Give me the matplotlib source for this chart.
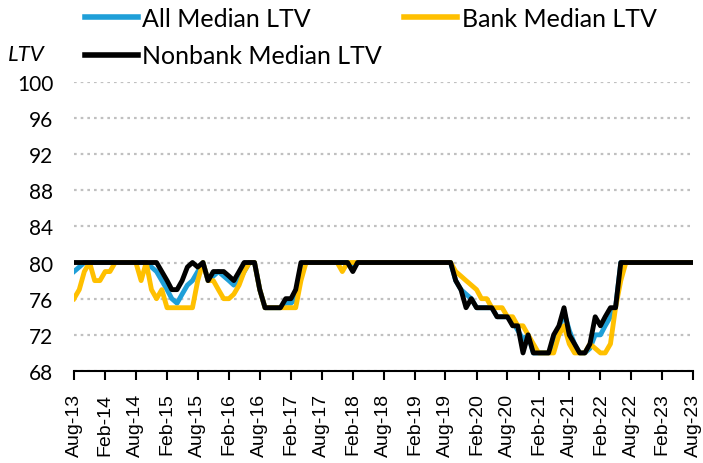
import matplotlib
matplotlib.use('Agg')
import matplotlib.pyplot as plt
import matplotlib.dates as mdates
import numpy as np
import pandas as pd

months = pd.date_range('2013-08-01', '2023-08-01', freq='MS')

all_ltv = ([79, 79.5] + [80]*13 +
           [79.5, 79, 78, 77, 76, 75.5, 76.5, 77.5, 78, 79, 80, 78, 78.5, 79, 78.5, 78, 77.5, 78, 79, 80, 80,
            77, 75, 75, 75, 75, 75.5, 75.5, 76, 79] +
           [80]*9 + [79.5] + [80]*19 +
           [78, 77, 76.5, 76, 75, 75, 75, 75, 74, 74, 74, 73.5, 72.5, 71.5, 72, 70, 70, 70, 70, 71, 72.5, 74.5,
            72.5, 71, 70, 70, 70.5, 72, 72, 73, 74, 75] +
           [80]*15)

bank_ltv = ([76, 77, 79, 80, 78, 78, 79, 79] + [80]*5 +
            [78, 80, 77, 76, 77] + [75]*6 +
            [78, 80, 78, 78, 77, 76, 76, 76.5, 77.5, 79, 80, 80, 77] + [75]*7 + [78] +
            [80]*7 + [79] + [80]*21 +
            [79, 78.5, 78, 77.5, 77, 76, 76, 75, 75, 75, 74, 74, 73, 73, 72, 71, 70, 70, 70, 70, 72, 73,
             71, 70, 70, 70, 71, 70.5, 70, 70, 71, 75, 78] +
            [80]*14)

nonbank_ltv = ([80]*17 +
               [79, 78, 77, 77, 78, 79.5, 80, 79.5, 80, 78, 79, 79, 79, 78.5, 78, 79, 80, 80, 80,
                77, 75, 75, 75, 75, 76, 76, 77, 80] +
               [80]*9 + [79] + [80]*19 +
               [78, 77, 75, 76, 75, 75, 75, 75, 74, 74, 74, 73, 73, 70, 72, 70, 70, 70, 70, 72, 73, 75,
                72, 71, 70, 70, 71, 74, 73, 74, 75, 75] +
               [80]*15)

yticks = np.arange(68, 101, 4)

fig = plt.figure(figsize=(7.03, 4.64), dpi=100)
ax = fig.add_axes([74/703, 1-372/464, (693-74)/703, (372-82.7)/464])

l_all, = ax.plot(months, all_ltv, color='#1f9fd8', lw=3.5, label='All Median LTV', solid_joinstyle='round')
l_bank, = ax.plot(months, bank_ltv, color='#ffc000', lw=3.5, label='Bank Median LTV', solid_joinstyle='round')
l_non, = ax.plot(months, nonbank_ltv, color='black', lw=3.5, label='Nonbank Median LTV', solid_joinstyle='round')

ax.set_xlim(months[0], months[-1])
ax.set_ylim(68, 100)
ax.set_yticks(yticks)
ax.yaxis.grid(True, color='#c0c0c0', linestyle=(0, (1.2, 1.8)), lw=1.6)
ax.set_axisbelow(True)

ax.xaxis.set_major_locator(mdates.MonthLocator(bymonth=[2, 8]))
ax.xaxis.set_major_formatter(mdates.DateFormatter('%b-%y'))

for s in ['top', 'right', 'left']:
    ax.spines[s].set_visible(False)
ax.spines['bottom'].set_linewidth(1.5)

ax.tick_params(axis='y', length=0, pad=15, labelsize=15)
for t in ax.get_yticklabels():
    t.set_family('Lato')
ax.tick_params(axis='x', length=6.5, width=1.5, pad=9, labelsize=14, labelrotation=90)
for t in ax.get_xticklabels():
    t.set_family('Liberation Sans')

fig.text(8/703, 1-55/464, 'LTV', style='italic', family='Lato', fontsize=16, va='center')

# column-major fill: All / Nonbank in first column, Bank in second
leg = fig.legend([l_all, l_non, l_bank], ['All Median LTV', 'Nonbank Median LTV', 'Bank Median LTV'],
                 loc='upper left', bbox_to_anchor=(85/703, 1-8/464), ncol=2, frameon=False,
                 prop={'family': 'Lato', 'size': 18}, handlelength=2.1, handletextpad=0.2,
                 columnspacing=0.88, labelspacing=0.58, borderpad=0, borderaxespad=0)
for line in leg.get_lines():
    line.set_linewidth(4)

fig.savefig('out.png', dpi=100)
